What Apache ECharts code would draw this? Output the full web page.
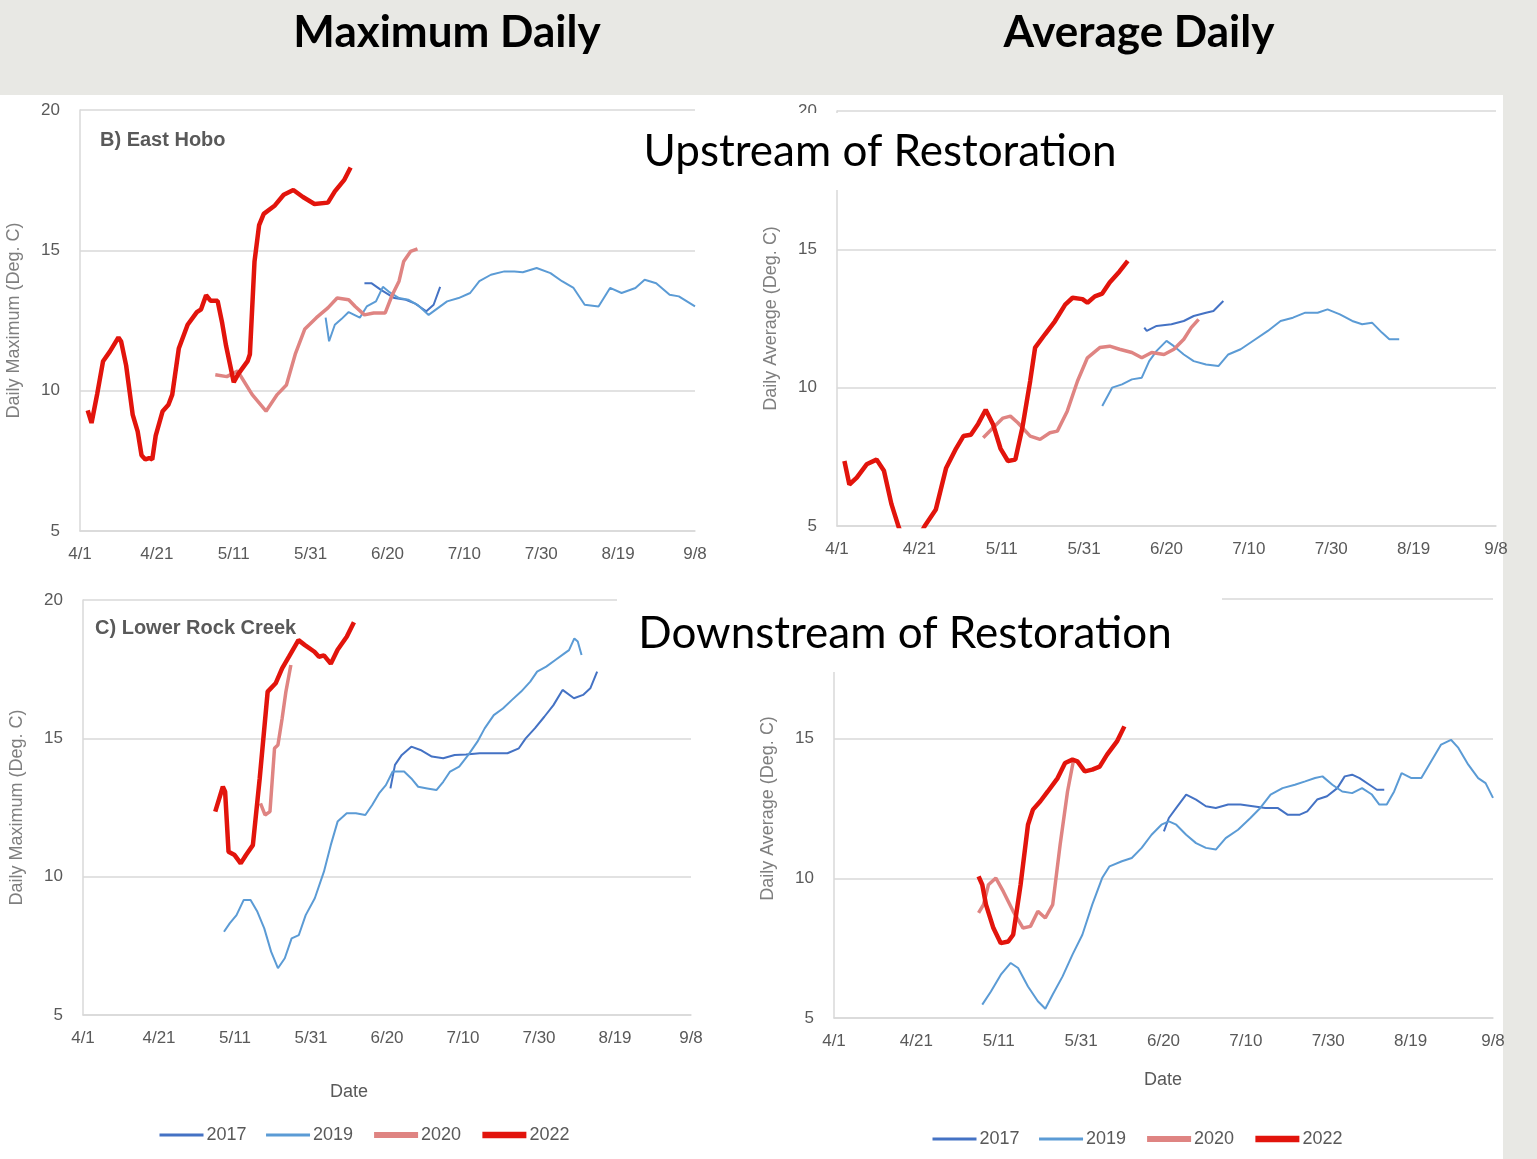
<!DOCTYPE html>
<html>
<head>
<meta charset="utf-8">
<title>Stream temperature - upstream / downstream of restoration</title>
<script src="https://cdn.jsdelivr.net/npm/echarts@6/dist/echarts.min.js"></script>
<style>
  html, body { margin: 0; padding: 0; background: #fff; }
  #main { width: 1537px; height: 1159px; }
</style>
</head>
<body>
<div id="main"></div>
<script>
// x axis: days after 4/1, a label every 20 days
const dateTicks = ['4/1', '4/21', '5/11', '5/31', '6/20', '7/10', '7/30', '8/19', '9/8']
const years = ['2017', '2019', '2020', '2022']

// B) East Hobo - daily maximum  [day, degC]
const hoboMax2017 = [[74,13.83],[75.8,13.83],[78.2,13.6],[81.8,13.3],[84.8,13.24],[87.2,13.1],[90.1,12.83],[92,13.06],[93.7,13.7]]
const hoboMax2019 = [[63.9,12.6],[64.8,11.76],[66.3,12.35],[68,12.55],[69.9,12.8],[72.8,12.6],[74.6,13.0],[77,13.18],[78.8,13.7],[80.6,13.5],[83,13.3],[85.4,13.24],[87.8,13.06],[90.7,12.7],[93.1,12.94],[95.5,13.18],[98.5,13.3],[101.5,13.48],[103.9,13.9],[106.9,14.13],[110.4,14.25],[113,14.25],[115.2,14.22],[118.8,14.37],[122.4,14.19],[125.4,13.9],[128.4,13.66],[131.3,13.06],[134.9,13.0],[137.9,13.66],[140.9,13.48],[144.5,13.66],[146.9,13.95],[149.9,13.83],[153.4,13.42],[155.8,13.36],[160,13.0]]
const hoboMax2020 = [[35.2,10.57],[38.2,10.5],[41,10.7],[44.8,9.86],[48.4,9.27],[51.3,9.86],[53.7,10.2],[56,11.3],[58.5,12.2],[61.5,12.6],[64.5,12.95],[66.9,13.3],[69.9,13.24],[71.6,13.0],[74,12.7],[76.4,12.77],[79.4,12.77],[81.2,13.4],[83,13.9],[84.2,14.6],[86,14.96],[87.8,15.05]]
const hoboMax2022 = [[2,9.3],[3,8.85],[4.5,9.9],[6,11.05],[7.8,11.4],[10,11.9],[10.7,11.75],[12,10.9],[13.7,9.15],[15,8.55],[16,7.7],[17,7.55],[18,7.6],[18.8,7.55],[19.7,8.4],[21.5,9.27],[23,9.5],[24,9.86],[25.7,11.5],[28,12.35],[30.4,12.8],[31.5,12.9],[32.8,13.4],[34,13.2],[35.8,13.2],[37,12.4],[38,11.6],[40,10.3],[41.2,10.6],[43.6,11.05],[44.2,11.3],[45.4,14.6],[46.6,15.9],[47.8,16.3],[50.7,16.6],[53,16.98],[55.5,17.15],[58,16.9],[61,16.65],[64.5,16.7],[66.3,17.1],[68.7,17.5],[70.4,17.95]]

// B) East Hobo - daily average
const hoboAvg2017 = [[74.6,12.17],[75.2,12.05],[77.6,12.23],[81.2,12.29],[84.2,12.41],[86.6,12.59],[89.6,12.71],[91.4,12.77],[93.8,13.13]]
const hoboAvg2019 = [[64.4,9.34],[66.8,10.0],[69.2,10.12],[71.6,10.3],[74,10.36],[75.8,10.96],[77.6,11.33],[80,11.69],[81.8,11.5],[84.2,11.2],[86.6,10.96],[89.6,10.84],[92.6,10.78],[95,11.2],[98,11.39],[101.6,11.75],[104.6,12.05],[107.7,12.41],[110.7,12.53],[113.7,12.71],[116.7,12.71],[119.1,12.83],[122.1,12.65],[125.1,12.41],[127.5,12.29],[129.9,12.35],[132.3,11.99],[134.1,11.75],[136.5,11.75]]
const hoboAvg2020 = [[35.5,8.19],[37.9,8.55],[40.3,8.9],[42.1,8.97],[43.9,8.73],[46.9,8.25],[49.3,8.13],[51.7,8.37],[53.5,8.43],[55.9,9.15],[58.4,10.24],[60.8,11.08],[63.8,11.45],[66.2,11.5],[68.6,11.39],[71.6,11.27],[74,11.08],[76.4,11.27],[79.4,11.2],[81.8,11.39],[84.2,11.75],[86,12.17],[87.8,12.47]]
const hoboAvg2022 = [[1.8,7.35],[3,6.5],[4.8,6.75],[7.2,7.23],[9.6,7.4],[11.4,7.0],[13.2,5.8],[15,4.95],[16.5,4.4],[18,4.2],[19.5,4.5],[21.3,5.0],[24,5.6],[26.5,7.1],[28.9,7.8],[30.7,8.25],[32.5,8.3],[34.3,8.7],[36.1,9.2],[37.9,8.67],[39.7,7.8],[41.5,7.35],[43.3,7.4],[45,8.55],[46.9,10.24],[48.1,11.45],[50.5,11.93],[52.9,12.4],[55.4,13.0],[57.2,13.25],[59.6,13.2],[60.8,13.07],[62.6,13.3],[64.4,13.4],[66.2,13.8],[68.6,14.2],[70.6,14.58]]

// C) Lower Rock Creek - daily maximum
const rockMax2017 = [[80.9,13.19],[82.1,14.04],[83.9,14.4],[86.4,14.7],[88.8,14.58],[91.8,14.34],[94.8,14.28],[97.8,14.4],[100.8,14.42],[104.4,14.46],[108.1,14.46],[111.7,14.46],[114.7,14.64],[116.5,15.0],[118.9,15.36],[121.4,15.78],[123.8,16.2],[126.2,16.75],[129.2,16.45],[131.6,16.57],[133.5,16.81],[135.3,17.41]]
const rockMax2019 = [[37.1,8.01],[38.6,8.31],[40.4,8.61],[42.3,9.16],[44.1,9.16],[45.9,8.73],[47.7,8.13],[49.5,7.29],[51.3,6.69],[53.1,7.05],[54.9,7.77],[56.8,7.89],[58.6,8.61],[61,9.22],[63.4,10.18],[65.2,11.14],[67,11.99],[69.4,12.29],[71.8,12.29],[74.3,12.23],[76.1,12.59],[77.9,13.01],[79.7,13.31],[81.5,13.8],[84.5,13.8],[86.4,13.55],[88.2,13.25],[90.6,13.19],[93,13.13],[94.8,13.43],[96.6,13.8],[99,13.98],[101.4,14.4],[103.8,14.88],[105.7,15.36],[108.1,15.84],[110.5,16.08],[112.9,16.39],[115.3,16.69],[117.7,17.05],[119.5,17.41],[121.9,17.59],[124.3,17.83],[126.7,18.07],[127.9,18.19],[129.3,18.61],[130.2,18.5],[131.2,18.01]]
const rockMax2020 = [[46.7,12.65],[47.9,12.23],[49.2,12.35],[50.4,14.64],[51.3,14.76],[52.4,15.72],[53.4,16.69],[54.7,17.65]]
const rockMax2022 = [[34.8,12.35],[36.8,13.25],[37.4,13.07],[38.3,10.9],[39.9,10.78],[41.5,10.48],[42.9,10.78],[44.7,11.14],[46.5,13.55],[48.6,16.69],[50.7,16.99],[52.4,17.53],[54.2,17.95],[56.7,18.55],[58.4,18.37],[60.9,18.13],[62.1,17.95],[63.4,18.0],[65.2,17.7],[67,18.2],[69.4,18.67],[71.3,19.2]]

// C) Lower Rock Creek - daily average
const rockAvg2017 = [[80.1,11.68],[81.3,12.16],[83.1,12.52],[85.5,13.0],[87.9,12.82],[90.3,12.58],[92.7,12.52],[95.7,12.64],[98.7,12.64],[101.7,12.58],[104.7,12.52],[107.7,12.52],[110.1,12.28],[113.1,12.28],[114.9,12.4],[117.3,12.82],[119.7,12.94],[122.2,13.23],[124,13.65],[125.8,13.71],[127.6,13.59],[130,13.35],[131.8,13.17],[133.6,13.17]]
const rockAvg2019 = [[36,5.48],[38.1,5.95],[40.5,6.55],[42.9,6.97],[44.7,6.79],[47.1,6.13],[49.5,5.6],[51.3,5.33],[53.1,5.84],[55.5,6.49],[57.9,7.27],[60.3,7.98],[62.7,9.06],[65.1,10.01],[66.9,10.43],[69.9,10.61],[72.3,10.73],[74.7,11.09],[77.1,11.56],[79.5,11.92],[81.3,12.04],[83.1,11.92],[85.5,11.56],[87.9,11.26],[90.3,11.09],[92.7,11.03],[95.1,11.44],[98.1,11.74],[101.1,12.16],[103.5,12.52],[106,13.0],[108.9,13.23],[111.9,13.35],[114.4,13.47],[116.8,13.59],[118.6,13.65],[121,13.35],[123.4,13.11],[125.8,13.05],[128.2,13.23],[130.6,13.0],[132.4,12.64],[134.2,12.64],[136,13.11],[137.8,13.77],[140.2,13.59],[142.6,13.59],[145,14.19],[147.4,14.79],[149.8,14.96],[151.6,14.67],[154,14.07],[156.4,13.59],[158.2,13.41],[160,12.88]]
const rockAvg2020 = [[35.1,8.76],[36.3,9.06],[37.5,9.77],[39.3,10.01],[41.1,9.53],[43.5,8.82],[45.9,8.22],[47.7,8.28],[49.5,8.82],[51.3,8.58],[53.1,9.06],[54.9,11.2],[56.7,13.11],[58.1,14.19]]
const rockAvg2022 = [[35.1,10.07],[36,9.77],[36.9,9.06],[38.7,8.22],[40.5,7.68],[42.3,7.74],[43.5,7.98],[45.3,9.77],[47.1,11.92],[48.3,12.46],[50.1,12.76],[51.9,13.11],[54.3,13.59],[56.1,14.13],[57.9,14.25],[59.1,14.19],[60.9,13.83],[62.7,13.89],[64.5,14.0],[66.3,14.43],[68.7,14.9],[70.5,15.44]]

const panelData = [
  [hoboMax2017, hoboMax2019, hoboMax2020, hoboMax2022],
  [hoboAvg2017, hoboAvg2019, hoboAvg2020, hoboAvg2022],
  [rockMax2017, rockMax2019, rockMax2020, rockMax2022],
  [rockAvg2017, rockAvg2019, rockAvg2020, rockAvg2022]
]

const yearColors = ['#4472c4', '#5b9bd5', '#df8482', '#e2140c']
const yearWidths = [2, 2, 3.5, 4.5]
const legendWidths = [3, 3, 6, 6.5]
const axisNames = ['Daily Maximum (Deg. C)', 'Daily Average (Deg. C)', 'Daily Maximum (Deg. C)', 'Daily Average (Deg. C)']

const grids = [
  { left: 80, top: 110, width: 615, height: 421 },
  { left: 837, top: 111, width: 659, height: 415 },
  { left: 83, top: 600, width: 608, height: 415 },
  { left: 834, top: 599, width: 659, height: 419 }
]

const labelFont = "'Liberation Sans', 'DejaVu Sans', sans-serif"
const grey = '#595959'
const lineGrey = '#d9d9d9'

const xAxes = grids.map((g, i) => ({
  type: 'value', gridIndex: i, min: 0, max: 160, interval: 20,
  axisLine: { show: true, lineStyle: { color: lineGrey, width: 1.5 } },
  axisTick: { show: false },
  splitLine: { show: false },
  axisLabel: { color: grey, fontSize: 17, fontFamily: labelFont, margin: 15, formatter: v => dateTicks[v / 20] }
}))

const yAxes = grids.map((g, i) => ({
  type: 'value', gridIndex: i, min: 5, max: 20, interval: 5,
  name: axisNames[i], nameLocation: 'middle', nameGap: 57,
  nameTextStyle: { color: '#7f7f7f', fontSize: 18, fontFamily: labelFont },
  axisLine: { show: true, lineStyle: { color: lineGrey, width: 1.5 } },
  axisTick: { show: false },
  splitLine: { show: true, lineStyle: { color: lineGrey, width: 1.5 } },
  axisLabel: { color: grey, fontSize: 17, fontFamily: labelFont, margin: 20 }
}))

const series = []
panelData.forEach((panel, p) => {
  panel.forEach((data, k) => {
    series.push({
      type: 'line', name: years[k], xAxisIndex: p, yAxisIndex: p,
      data: data, symbol: 'none', showSymbol: false, clip: true, z: 2 + k,
      lineStyle: { color: yearColors[k], width: yearWidths[k] },
      itemStyle: { color: yearColors[k] },
      emphasis: { disabled: true }
    })
  })
})

const legendItems = years.map((y, k) => ({ name: y, lineStyle: { width: legendWidths[k] } }))

const legendBase = {
  data: legendItems, itemWidth: 44, itemHeight: 12, itemGap: 18,
  itemStyle: { opacity: 0 },
  textStyle: { color: grey, fontSize: 18, fontFamily: labelFont, padding: [0, 0, 0, -2] }
}

const titleFont = "'Lato', 'Open Sans', sans-serif"

function txt(x, y, text, font, align, color) {
  return {
    type: 'text', x: x, y: y, z: 110,
    style: { text: text, font: font, fill: color || '#000', textAlign: align || 'center', textVerticalAlign: 'middle' }
  }
}

const graphics = [
  // textured slide background: grey band on top and right edge
  { type: 'rect', shape: { x: 0, y: 0, width: 1537, height: 95 }, style: { fill: '#e8e8e4' }, z: 0 },
  { type: 'rect', shape: { x: 1503, y: 95, width: 34, height: 1064 }, style: { fill: '#e8e8e4' }, z: 0 },
  txt(447, 33, 'Maximum Daily', 'bold 44px ' + titleFont),
  txt(1139, 33, 'Average Daily', 'bold 44px ' + titleFont),
  // white boxes behind the section captions
  { type: 'rect', shape: { x: 620, y: 113, width: 520, height: 77 }, style: { fill: '#fff' }, z: 100 },
  { type: 'rect', shape: { x: 617, y: 592, width: 605, height: 80 }, style: { fill: '#fff' }, z: 100 },
  txt(880, 152, 'Upstream of Restoration', '44px ' + titleFont),
  txt(905, 634, 'Downstream of Restoration', '44px ' + titleFont),
  txt(100, 140, 'B) East Hobo', 'bold 20px ' + labelFont, 'left', grey),
  txt(95, 628, 'C) Lower Rock Creek', 'bold 20px ' + labelFont, 'left', grey),
  txt(349, 1092, 'Date', '18px ' + labelFont, 'center', grey),
  txt(1163, 1080, 'Date', '18px ' + labelFont, 'center', grey)
]

const myChart = echarts.init(document.getElementById('main'), null, { renderer: 'canvas' })
myChart.setOption({
  backgroundColor: '#fff',
  animation: false,
  grid: grids.map(g => Object.assign({ outerBoundsMode: 'none', containLabel: false }, g)),
  xAxis: xAxes,
  yAxis: yAxes,
  legend: [
    Object.assign({ left: 153, top: 1121 }, legendBase),
    Object.assign({ left: 926, top: 1125 }, legendBase)
  ],
  graphic: graphics,
  series: series
})
</script>
</body>
</html>
